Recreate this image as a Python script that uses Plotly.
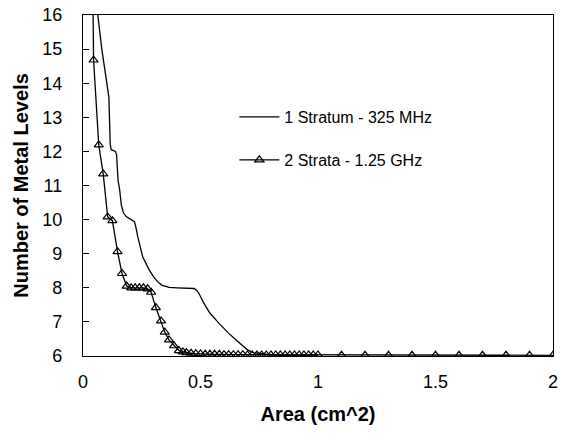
import plotly.graph_objects as go

# 1 Stratum - 325 MHz (plain line)
area_1stratum = [0.045, 0.063, 0.08, 0.096, 0.11, 0.116, 0.12, 0.138, 0.143, 0.149, 0.156,
                 0.163, 0.172, 0.184, 0.2, 0.212, 0.219, 0.226, 0.233, 0.254, 0.282, 0.30,
                 0.317, 0.335, 0.352, 0.366, 0.40, 0.44, 0.472, 0.483, 0.493, 0.514, 0.54,
                 0.577, 0.619, 0.66, 0.70, 0.724, 0.758, 0.8, 0.9, 1.0]
levels_1stratum = [20.0, 16.0, 15.0, 14.2, 13.6, 12.2, 12.05, 12.0, 11.9, 11.16, 10.87,
                   10.43, 10.2, 10.09, 10.02, 9.99, 9.94, 9.75, 9.5, 8.91, 8.52, 8.33,
                   8.18, 8.08, 8.03, 8.01, 8.0, 8.0, 7.98, 7.93, 7.84, 7.55, 7.26,
                   6.97, 6.67, 6.42, 6.18, 6.1, 6.06, 6.03, 6.01, 6.0]

# 2 Strata - 1.25 GHz (line with open triangles)
area_2strata = [0.025, 0.045, 0.067, 0.086, 0.105, 0.125, 0.147, 0.166, 0.186, 0.205,
                0.222, 0.24, 0.257, 0.275, 0.29, 0.31, 0.332, 0.348, 0.366, 0.387, 0.408,
                0.425, 0.44, 0.46, 0.48, 0.50, 0.52, 0.54, 0.56, 0.58, 0.60, 0.62, 0.64,
                0.66, 0.68, 0.70, 0.72, 0.74, 0.76, 0.78, 0.80, 0.82, 0.84, 0.86, 0.88,
                0.90, 0.92, 0.94, 0.96, 0.98, 1.0,
                1.1, 1.2, 1.3, 1.4, 1.5, 1.6, 1.7, 1.8, 1.9, 2.0]
levels_2strata = [28.0, 14.68, 12.19, 11.34, 10.08, 9.97, 9.06, 8.42, 8.05, 8.0,
                  8.0, 8.0, 8.0, 7.97, 7.87, 7.42, 7.03, 6.7, 6.47, 6.3, 6.16,
                  6.12, 6.1, 6.08, 6.07, 6.06, 6.05, 6.05, 6.05, 6.05, 6.04, 6.04, 6.04,
                  6.04, 6.04, 6.03, 6.03, 6.03, 6.03, 6.03, 6.03, 6.03, 6.03, 6.03, 6.03,
                  6.03, 6.03, 6.03, 6.03, 6.03, 6.03,
                  6.02, 6.02, 6.02, 6.02, 6.02, 6.02, 6.02, 6.02, 6.02, 6.02]

x_ticks = [0, 0.5, 1, 1.5, 2]
x_tick_labels = ["0", "0.5", "1", "1.5", "2"]
y_ticks = [6, 7, 8, 9, 10, 11, 12, 13, 14, 15, 16]

FONT = "Liberation Sans, Arial, sans-serif"

fig = go.Figure()
fig.add_trace(go.Scatter(
    x=area_1stratum, y=levels_1stratum, mode="lines",
    name="1 Stratum - 325 MHz", legend="legend", showlegend=True,
    line=dict(color="black", width=1.3),
))
fig.add_trace(go.Scatter(
    x=area_2strata, y=levels_2strata, mode="lines+markers",
    name="2 Strata - 1.25 GHz", legend="legend2", showlegend=True,
    line=dict(color="black", width=1.3),
    marker=dict(symbol="triangle-up-open", size=8, color="black",
                line=dict(color="black", width=1.2)),
))

fig.update_layout(
    width=562, height=434,
    margin=dict(l=83, r=4, t=15, b=78),
    paper_bgcolor="white", plot_bgcolor="white",
    showlegend=True,
    font=dict(family=FONT, color="black", size=18),
    legend=dict(x=0.322, y=0.701, xanchor="left", yanchor="middle", itemwidth=40,
                bgcolor="rgba(0,0,0,0)", font=dict(size=16, family=FONT)),
    legend2=dict(x=0.322, y=0.575, xanchor="left", yanchor="middle", itemwidth=40,
                 bgcolor="rgba(0,0,0,0)", font=dict(size=16, family=FONT)),
    xaxis=dict(
        range=[0, 2], tickvals=x_ticks, ticktext=x_tick_labels,
        showline=True, linecolor="black", linewidth=1.3, mirror=True,
        ticks="", showgrid=False, zeroline=False,
        ticklabelstandoff=9, ticklabeloverflow="allow",
        title=dict(text="<b>Area (cm^2)</b>", font=dict(size=20, family=FONT), standoff=16),
    ),
    yaxis=dict(
        range=[6, 16], tickvals=y_ticks,
        showline=True, linecolor="black", linewidth=1.3, mirror=True,
        ticks="inside", ticklen=6, tickcolor="black", tickwidth=1.2,
        showgrid=False, zeroline=False,
        ticklabelstandoff=16,
        title=dict(text="<b>Number of Metal Levels</b>", font=dict(size=20, family=FONT), standoff=8),
    ),
)

fig.write_html("out.html")
